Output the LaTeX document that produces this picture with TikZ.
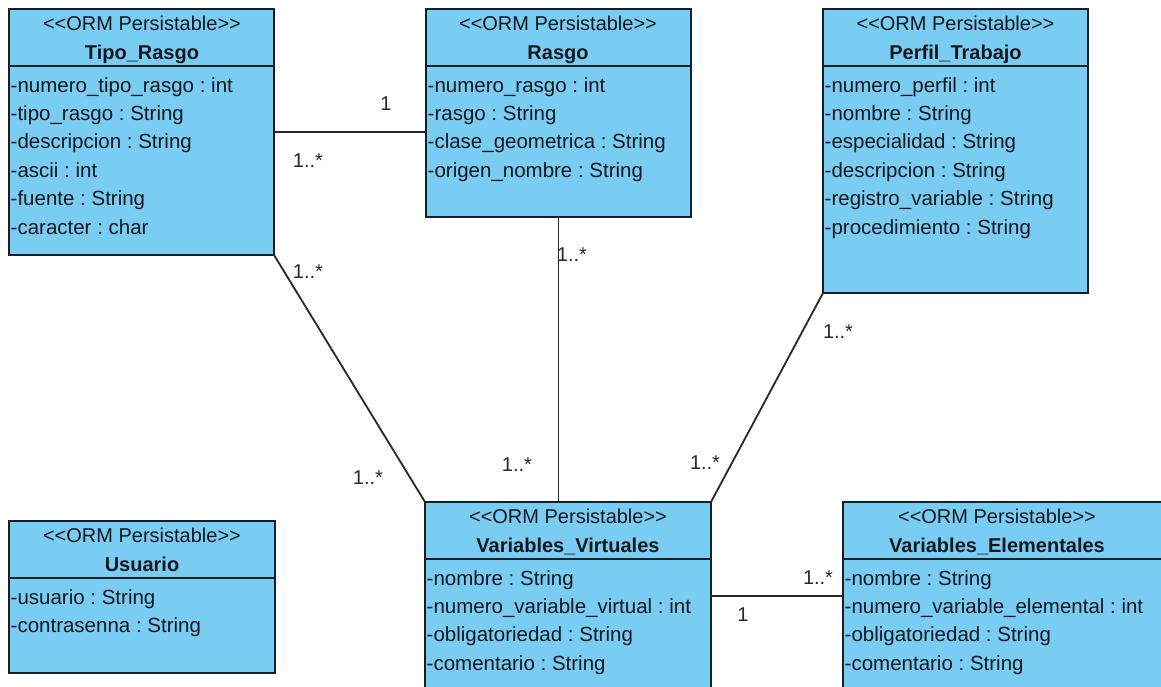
\documentclass[tikz,border=0pt]{standalone}
\usepackage{fontspec}
\setmainfont{Liberation Sans}
\usetikzlibrary{calc}
\frenchspacing

\definecolor{ormfill}{RGB}{122,205,242}
\definecolor{ormline}{RGB}{22,30,40}
\definecolor{ormtext}{RGB}{20,24,30}
\definecolor{linkcol}{RGB}{40,40,40}

\tikzset{
  classbox/.style={draw=ormline, fill=ormfill, line width=1.6pt, rectangle,
    inner sep=0, outer sep=0, anchor=north west},
  stereo/.style={anchor=base, inner sep=0, font=\fontsize{20}{24}\selectfont, text=ormtext},
  ctitle/.style={anchor=base, inner sep=0, font=\fontsize{20}{24}\selectfont\bfseries, text=ormtext},
  attr/.style={anchor=base west, inner sep=0, font=\fontsize{20.5}{24}\selectfont, text=ormtext},
  assoc/.style={draw=linkcol, line width=1.8pt},
  mult/.style={inner sep=0, font=\fontsize{20}{24}\selectfont, text=linkcol},
}

% #1 name, #2 left, #3 top, #4 width, #5 height, #6 header centre x,
% #7 class name, #8 attribute list
\newcommand\ormclass[8]{%
  \node[classbox, minimum width=#4, minimum height=#5] (#1) at (#2,#3) {};
  \draw[ormline, line width=1.6pt] ([yshift=-57pt]#1.north west) -- ([yshift=-57pt]#1.north east);
  \node[stereo] at (#6,#3+21) {<\kern0pt<ORM Persistable>\kern0pt>};
  \node[ctitle] at (#6,#3+50) {#7};
  \foreach \a [count=\i from 0] in {#8}
    \node[attr] at (#2+1.5,#3+83+28.4*\i) {\a};
}

\begin{document}
\begin{tikzpicture}[x=1pt,y=-1pt]
\useasboundingbox (0,0) rectangle (1161,686);
\fill[white] (0,0) rectangle (1161,686);
\clip (0,0) rectangle (1161,686);

% classes
\ormclass{tipo}{9}{9}{265}{246}{142}{Tipo\_Rasgo}{%
  -numero\_tipo\_rasgo : int, -tipo\_rasgo : String, -descripcion : String,
  -ascii : int, -fuente : String, -caracter : char}
\ormclass{rasgo}{426}{9}{265}{208}{558}{Rasgo}{%
  -numero\_rasgo : int, -rasgo : String, -clase\_geometrica : String,
  -origen\_nombre : String}
\ormclass{perfil}{823}{9}{265}{284}{955.5}{Perfil\_Trabajo}{%
  -numero\_perfil : int, -nombre : String, -especialidad : String,
  -descripcion : String, -registro\_variable : String, -procedimiento : String}
\ormclass{usuario}{9}{521}{266}{152}{142}{Usuario}{%
  -usuario : String, -contrasenna : String}
\ormclass{vv}{425}{502}{286}{188}{568}{Variables\_Virtuales}{%
  -nombre : String, -numero\_variable\_virtual : int, -obligatoriedad : String,
  -comentario : String}
\ormclass{ve}{843}{502}{330}{188}{997}{Variables\_Elementales}{%
  -nombre : String, -numero\_variable\_elemental : int, -obligatoriedad : String,
  -comentario : String}

% associations
\draw[assoc] (tipo.east) -- (tipo.east -| rasgo.west);
\draw[assoc] (rasgo.south) -- (rasgo.south |- vv.north);
\draw[assoc] (tipo.south east) -- (vv.north west);
\draw[assoc] (perfil.south west) -- (vv.north east);
\draw[assoc] (vv.east) -- (ve.west);

% multiplicities
\node[mult] at (386,104) {1};
\node[mult] at (308,161) {1..*};
\node[mult] at (308,272) {1..*};
\node[mult] at (368,478) {1..*};
\node[mult] at (572,255) {1..*};
\node[mult] at (517,465) {1..*};
\node[mult] at (838,332) {1..*};
\node[mult] at (705,463) {1..*};
\node[mult] at (818,578) {1..*};
\node[mult] at (743,615) {1};
\end{tikzpicture}
\end{document}
